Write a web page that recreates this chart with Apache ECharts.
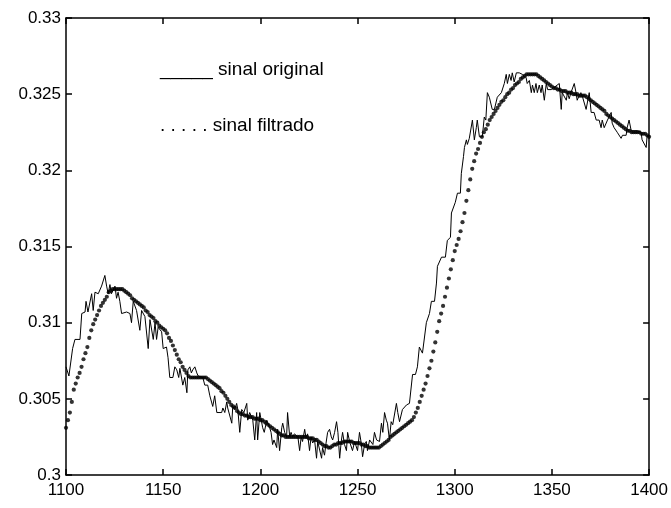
<!DOCTYPE html>
<html>
<head>
<meta charset="utf-8">
<script src="https://cdn.jsdelivr.net/npm/echarts@6/dist/echarts.min.js"></script>
<style>
html, body { margin: 0; padding: 0; background: #fff; }
#chart { width: 671px; height: 508px; }
</style>
</head>
<body>
<div id="chart"></div>
<script>
// Raw (noisy) signal: sample positions and amplitudes
const origX = [
  1100.0, 1101.5, 1103.4, 1104.6, 1107.2, 1108.1, 1109.8, 1110.3, 1111.3, 1113.2,
  1114.0, 1114.9, 1116.6, 1117.5, 1118.3, 1120.0, 1120.9, 1121.7, 1122.6, 1123.4,
  1125.2, 1126.0, 1126.8, 1127.7, 1128.6, 1131.2, 1132.9, 1133.7, 1134.6, 1136.3,
  1138.0, 1138.9, 1140.6, 1142.3, 1143.2, 1144.9, 1145.8, 1146.6, 1147.4, 1149.2,
  1150.0, 1151.7, 1152.5, 1153.4, 1155.0, 1156.0, 1157.0, 1158.0, 1158.6, 1159.6,
  1160.1, 1161.1, 1162.2, 1162.7, 1163.7, 1164.5, 1165.2, 1166.3, 1167.3, 1168.0,
  1170.4, 1171.4, 1172.9, 1174.0, 1175.0, 1175.5, 1176.5, 1177.6, 1180.1, 1180.7,
  1181.7, 1182.7, 1183.2, 1185.3, 1185.8, 1186.8, 1187.8, 1188.4, 1189.4, 1190.4,
  1191.5, 1192.0, 1193.0, 1193.5, 1194.5, 1196.1, 1197.1, 1198.1, 1198.6, 1199.7,
  1200.5, 1201.2, 1202.0, 1203.3, 1204.8, 1205.5, 1206.3, 1207.0, 1208.4, 1208.9,
  1209.9, 1211.0, 1211.5, 1212.5, 1213.5, 1214.0, 1215.1, 1215.8, 1216.6, 1217.5,
  1218.5, 1219.3, 1220.2, 1221.0, 1221.7, 1222.8, 1223.5, 1224.3, 1225.3, 1226.1,
  1226.9, 1227.9, 1228.9, 1229.5, 1230.5, 1231.5, 1232.0, 1233.0, 1233.8, 1234.6,
  1235.6, 1236.5, 1237.2, 1238.2, 1239.2, 1239.9, 1240.8, 1241.6, 1242.3, 1243.3,
  1244.3, 1244.9, 1245.9, 1246.8, 1247.4, 1248.5, 1249.3, 1250.0, 1251.0, 1251.9,
  1252.6, 1253.6, 1254.5, 1255.1, 1256.2, 1257.2, 1257.9, 1258.7, 1259.8, 1261.3,
  1262.3, 1263.0, 1263.9, 1264.8, 1265.4, 1266.4, 1267.3, 1268.1, 1270.0, 1270.7,
  1271.6, 1273.1, 1275.2, 1275.7, 1276.7, 1277.7, 1278.3, 1279.8, 1280.8, 1281.8,
  1283.4, 1285.4, 1287.0, 1288.0, 1289.6, 1290.6, 1291.1, 1293.2, 1295.2, 1296.2,
  1297.8, 1298.3, 1298.8, 1300.3, 1301.4, 1302.9, 1303.4, 1304.5, 1305.0, 1306.0,
  1306.5, 1307.5, 1309.1, 1310.1, 1311.1, 1311.6, 1312.7, 1314.2, 1315.2, 1316.0,
  1316.8, 1317.8, 1319.3, 1320.4, 1321.9, 1324.0, 1325.5, 1326.5, 1327.1, 1328.1,
  1329.0, 1329.6, 1330.6, 1331.7, 1333.2, 1334.8, 1336.7, 1337.3, 1338.4, 1339.4,
  1340.0, 1340.9, 1341.8, 1342.5, 1343.5, 1344.4, 1345.0, 1346.1, 1347.1, 1347.8,
  1349.7, 1353.8, 1354.8, 1355.3, 1356.3, 1357.4, 1358.0, 1358.9, 1359.8, 1360.7,
  1361.5, 1362.4, 1363.0, 1364.0, 1364.9, 1365.8, 1367.6, 1369.2, 1370.2, 1371.7,
  1372.8, 1374.3, 1375.3, 1375.9, 1376.9, 1378.6, 1380.5, 1381.0, 1382.0, 1383.6,
  1385.6, 1386.3, 1388.2, 1388.7, 1389.7, 1390.8, 1392.3, 1393.8, 1395.9, 1396.4,
  1398.5, 1399.0, 1400.0
];
const origY = [
  0.3071, 0.3065, 0.3083, 0.3089, 0.3089, 0.3106, 0.3107, 0.3114, 0.3107, 0.3119,
  0.3108, 0.3120, 0.3119, 0.3120, 0.3124, 0.3131, 0.3124, 0.3119, 0.3125, 0.3119,
  0.3124, 0.3116, 0.3120, 0.3114, 0.3106, 0.3107, 0.3106, 0.3100, 0.3114, 0.3108,
  0.3095, 0.3108, 0.3104, 0.3083, 0.3102, 0.3089, 0.3100, 0.3089, 0.3097, 0.3094,
  0.3083, 0.3084, 0.3077, 0.3064, 0.3064, 0.3071, 0.3069, 0.3064, 0.3070, 0.3071,
  0.3059, 0.3064, 0.3054, 0.3069, 0.3071, 0.3067, 0.3069, 0.3071, 0.3067, 0.3065,
  0.3064, 0.3059, 0.3059, 0.3052, 0.3052, 0.3045, 0.3052, 0.3041, 0.3041, 0.3044,
  0.3041, 0.3048, 0.3044, 0.3034, 0.3045, 0.3043, 0.3047, 0.3043, 0.3028, 0.3043,
  0.3041, 0.3040, 0.3047, 0.3036, 0.3041, 0.3036, 0.3023, 0.3041, 0.3023, 0.3041,
  0.3041, 0.3031, 0.3028, 0.3036, 0.3031, 0.3028, 0.3020, 0.3023, 0.3018, 0.3030,
  0.3016, 0.3031, 0.3034, 0.3028, 0.3025, 0.3041, 0.3025, 0.3028, 0.3025, 0.3027,
  0.3026, 0.3025, 0.3016, 0.3025, 0.3022, 0.3030, 0.3024, 0.3027, 0.3016, 0.3025,
  0.3021, 0.3023, 0.3011, 0.3022, 0.3022, 0.3011, 0.3018, 0.3013, 0.3021, 0.3028,
  0.3030, 0.3025, 0.3023, 0.3028, 0.3035, 0.3028, 0.3011, 0.3022, 0.3028, 0.3020,
  0.3016, 0.3028, 0.3022, 0.3021, 0.3016, 0.3022, 0.3023, 0.3016, 0.3028, 0.3021,
  0.3012, 0.3020, 0.3022, 0.3016, 0.3023, 0.3023, 0.3020, 0.3028, 0.3023, 0.3022,
  0.3034, 0.3028, 0.3041, 0.3036, 0.3034, 0.3023, 0.3035, 0.3033, 0.3047, 0.3041,
  0.3035, 0.3043, 0.3046, 0.3047, 0.3047, 0.3048, 0.3066, 0.3066, 0.3071, 0.3084,
  0.3080, 0.3100, 0.3106, 0.3114, 0.3114, 0.3126, 0.3137, 0.3143, 0.3143, 0.3154,
  0.3156, 0.3172, 0.3173, 0.3179, 0.3185, 0.3185, 0.3198, 0.3209, 0.3215, 0.3220,
  0.3217, 0.3221, 0.3233, 0.3220, 0.3228, 0.3233, 0.3222, 0.3222, 0.3235, 0.3233,
  0.3251, 0.3248, 0.3240, 0.3240, 0.3248, 0.3251, 0.3257, 0.3263, 0.3257, 0.3263,
  0.3259, 0.3264, 0.3258, 0.3264, 0.3264, 0.3263, 0.3261, 0.3257, 0.3259, 0.3251,
  0.3256, 0.3251, 0.3257, 0.3251, 0.3256, 0.3251, 0.3256, 0.3246, 0.3257, 0.3253,
  0.3253, 0.3257, 0.3240, 0.3251, 0.3251, 0.3246, 0.3251, 0.3247, 0.3251, 0.3251,
  0.3257, 0.3251, 0.3246, 0.3249, 0.3251, 0.3248, 0.3240, 0.3251, 0.3238, 0.3238,
  0.3233, 0.3233, 0.3228, 0.3233, 0.3228, 0.3233, 0.3238, 0.3231, 0.3228, 0.3225,
  0.3221, 0.3223, 0.3223, 0.3228, 0.3233, 0.3226, 0.3226, 0.3226, 0.3225, 0.3220,
  0.3215, 0.3223, 0.3222
];

// Filtered signal: one sample per unit starting at filtStart
const filtStart = 1100;
const filtY = [
  0.3031, 0.3036, 0.3041, 0.3048, 0.3056, 0.3060, 0.3064, 0.3067, 0.3071, 0.3076,
  0.3080, 0.3084, 0.3090, 0.3095, 0.3099, 0.3102, 0.3105, 0.3108, 0.3111, 0.3113,
  0.3115, 0.3117, 0.3120, 0.3121, 0.3122, 0.3122, 0.3122, 0.3122, 0.3122, 0.3122,
  0.3121, 0.3120, 0.3119, 0.3118, 0.3116, 0.3115, 0.3114, 0.3113, 0.3112, 0.3111,
  0.3110, 0.3108, 0.3107, 0.3105, 0.3104, 0.3103, 0.3101, 0.3100, 0.3098, 0.3097,
  0.3096, 0.3095, 0.3093, 0.3090, 0.3088, 0.3085, 0.3082, 0.3079, 0.3076, 0.3074,
  0.3071, 0.3069, 0.3067, 0.3065, 0.3064, 0.3064, 0.3064, 0.3064, 0.3064, 0.3064,
  0.3064, 0.3064, 0.3064, 0.3063, 0.3062, 0.3061, 0.3060, 0.3059, 0.3058, 0.3057,
  0.3055, 0.3054, 0.3052, 0.3050, 0.3048, 0.3046, 0.3045, 0.3044, 0.3042, 0.3041,
  0.3040, 0.3040, 0.3039, 0.3039, 0.3038, 0.3038, 0.3038, 0.3037, 0.3037, 0.3037,
  0.3036, 0.3036, 0.3035, 0.3034, 0.3033, 0.3032, 0.3031, 0.3030, 0.3029, 0.3028,
  0.3027, 0.3026, 0.3026, 0.3025, 0.3025, 0.3025, 0.3025, 0.3025, 0.3025, 0.3025,
  0.3025, 0.3025, 0.3025, 0.3025, 0.3025, 0.3024, 0.3024, 0.3024, 0.3023, 0.3023,
  0.3022, 0.3021, 0.3020, 0.3019, 0.3019, 0.3018, 0.3018, 0.3019, 0.3020, 0.3020,
  0.3021, 0.3021, 0.3021, 0.3022, 0.3022, 0.3022, 0.3022, 0.3022, 0.3021, 0.3021,
  0.3021, 0.3021, 0.3020, 0.3020, 0.3019, 0.3019, 0.3018, 0.3018, 0.3018, 0.3018,
  0.3018, 0.3018, 0.3019, 0.3020, 0.3021, 0.3022, 0.3023, 0.3025, 0.3026, 0.3027,
  0.3028, 0.3029, 0.3030, 0.3031, 0.3032, 0.3033, 0.3034, 0.3035, 0.3036, 0.3038,
  0.3041, 0.3044, 0.3048, 0.3052, 0.3056, 0.3060, 0.3065, 0.3070, 0.3075, 0.3081,
  0.3087, 0.3094, 0.3101, 0.3106, 0.3111, 0.3117, 0.3123, 0.3129, 0.3135, 0.3141,
  0.3147, 0.3151, 0.3155, 0.3160, 0.3166, 0.3172, 0.3180, 0.3187, 0.3194, 0.3201,
  0.3206, 0.3211, 0.3214, 0.3218, 0.3222, 0.3225, 0.3227, 0.3230, 0.3233, 0.3235,
  0.3237, 0.3239, 0.3241, 0.3243, 0.3245, 0.3246, 0.3248, 0.3250, 0.3251, 0.3253,
  0.3254, 0.3256, 0.3257, 0.3258, 0.3260, 0.3261, 0.3262, 0.3263, 0.3263, 0.3263,
  0.3263, 0.3263, 0.3263, 0.3262, 0.3261, 0.3260, 0.3259, 0.3258, 0.3257, 0.3256,
  0.3255, 0.3254, 0.3254, 0.3253, 0.3253, 0.3252, 0.3252, 0.3252, 0.3251, 0.3251,
  0.3251, 0.3250, 0.3250, 0.3250, 0.3249, 0.3249, 0.3249, 0.3249, 0.3248, 0.3247,
  0.3246, 0.3245, 0.3244, 0.3243, 0.3242, 0.3241, 0.3240, 0.3239, 0.3237, 0.3236,
  0.3235, 0.3234, 0.3233, 0.3232, 0.3231, 0.3230, 0.3229, 0.3228, 0.3227, 0.3226,
  0.3226, 0.3225, 0.3225, 0.3225, 0.3225, 0.3225, 0.3224, 0.3224, 0.3224, 0.3223,
  0.3222
];

// Axis ranges and steps
const xRange = [1100, 1400], xStep = 50;
const yRange = [0.3, 0.33], yStep = 0.005;

const legendLines = ['_____ sinal original', '. . . . . sinal filtrado'];

const FONT = '"Liberation Sans", Arial, Helvetica, sans-serif';

const origData = origX.map((x, i) => [x, origY[i]]);
const filtData = filtY.map((y, i) => [filtStart + i, y]);

const black = '#000';
function xAxisCfg(pos, labels) {
  return {
    type: 'value', position: pos, min: xRange[0], max: xRange[1], interval: xStep,
    axisLine: { show: true, onZero: false, lineStyle: { color: black, width: 1.5 } },
    axisTick: { show: true, inside: true, length: 6, lineStyle: { color: black, width: 1.5 } },
    axisLabel: { show: labels, color: black, fontSize: 17, fontFamily: FONT, margin: 7,
                 showMinLabel: true, showMaxLabel: true,
                 formatter: v => String(Math.round(v)) },
    splitLine: { show: false }
  };
}
function yAxisCfg(pos, labels) {
  return {
    type: 'value', position: pos, min: yRange[0], max: yRange[1], interval: yStep,
    axisLine: { show: true, onZero: false, lineStyle: { color: black, width: 1.5 } },
    axisTick: { show: true, inside: true, length: 6, lineStyle: { color: black, width: 1.5 } },
    axisLabel: { show: labels, color: black, fontSize: 17, fontFamily: FONT, margin: 5,
                 showMinLabel: true, showMaxLabel: true,
                 formatter: v => String(+v.toFixed(3)) },
    splitLine: { show: false }
  };
}

const chart = echarts.init(document.getElementById('chart'), null, { renderer: 'canvas' });
chart.setOption({
  animation: false,
  backgroundColor: '#fff',
  grid: { left: 66, right: 21, top: 18, bottom: 33, containLabel: false },
  xAxis: [xAxisCfg('bottom', true), xAxisCfg('top', false)],
  yAxis: [yAxisCfg('left', true), yAxisCfg('right', false)],
  graphic: [
    { type: 'text', left: 160, top: 60,
      style: { text: legendLines[0], font: '19px ' + FONT, fill: black } },
    { type: 'text', left: 160, top: 116,
      style: { text: legendLines[1], font: '19px ' + FONT, fill: black } }
  ],
  series: [
    {
      name: 'sinal filtrado', type: 'scatter', xAxisIndex: 0, yAxisIndex: 0,
      data: filtData, symbol: 'circle', symbolSize: 4.2,
      itemStyle: { color: black }, silent: true
    },
    {
      name: 'sinal original', type: 'line', xAxisIndex: 0, yAxisIndex: 0,
      data: origData, showSymbol: false, symbol: 'none',
      lineStyle: { color: black, width: 1 }, silent: true
    }
  ]
});
</script>
</body>
</html>
